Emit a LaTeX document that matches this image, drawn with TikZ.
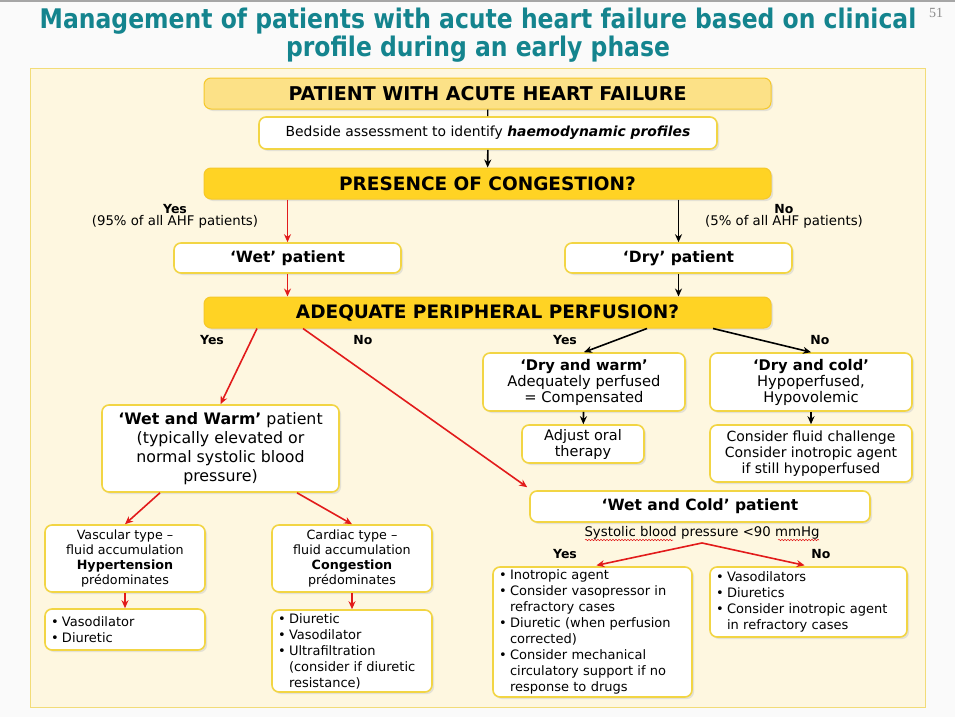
\documentclass[tikz,border=0pt]{standalone}
\usepackage{fontspec}
\setmainfont{DejaVu Sans}
\newfontfamily\titlefont[FakeStretch=0.87]{DejaVu Sans}
\newfontfamily\numfont{Liberation Serif}
\usetikzlibrary{arrows.meta, positioning, shadows, decorations.pathmorphing}
\definecolor{titleteal}{HTML}{14848E}
\definecolor{panelfill}{HTML}{FEF7E0}
\definecolor{paneledge}{HTML}{F2DC78}
\definecolor{hdrgold}{HTML}{FFD324}
\definecolor{hdrlight}{HTML}{FCE187}
\definecolor{hdredge}{HTML}{F5C82A}
\definecolor{boxedge}{HTML}{F2D544}
\definecolor{arrred}{HTML}{E21B1B}
\newcommand{\bul}{\makebox[11pt][l]{\textbullet}}
\newcommand{\ind}{\hspace*{11pt}}

\begin{document}
\begin{tikzpicture}[x=1pt, y=-1pt,
  shad/.style={drop shadow={shadow xshift=2pt, shadow yshift=-2pt, fill=black!20}},
  hdr/.style={shad, rounded corners=7pt, fill=hdrgold, draw=hdredge, line width=1pt,
    minimum width=567pt, minimum height=31pt, inner sep=0pt,
    font=\fontsize{18.5}{20}\selectfont\bfseries},
  wbox/.style={shad, rounded corners=7pt, fill=white, draw=boxedge, line width=1.6pt,
    inner sep=0pt, align=center},
  lbox/.style={wbox, align=left, inner xsep=6pt, font=\fontsize{13}{16}\selectfont},
  redarr/.style={draw=arrred, line width=1.6pt, -{Stealth[length=8pt, width=7pt]}},
  blkarr/.style={draw=black, line width=1.6pt, -{Stealth[length=8pt, width=7pt]}},
  lab/.style={font=\fontsize{12.5}{13}\selectfont\bfseries}
]
  \useasboundingbox (0,0) rectangle (955,717);
  \fill[black!2] (0,0) rectangle (955,717);
  \draw[black!35, line width=1.5pt] (0,1) -- (955,1);

  % Title and slide number
  \node[font=\titlefont\fontsize{27}{25}\selectfont\bfseries, text=titleteal, align=center] (title) at (478,35)
    {Management of patients with acute heart failure based on clinical\\profile during an early phase};
  \node[font=\numfont\fontsize{14}{14}\selectfont, text=black!45] (pagenum) at (936,13) {51};

  % Panel
  \fill[panelfill] (30,68) rectangle (925,707);
  \draw[paneledge, line width=1pt] (30,68) rectangle (925,707);

  % Main questions
  \node[hdr, fill=hdrlight, font=\fontsize{19}{20}\selectfont\bfseries] (patient) at (487.5,93.5) {PATIENT WITH ACUTE HEART FAILURE};
  \node[wbox, minimum width=458pt, minimum height=32pt, font=\fontsize{13.9}{15}\selectfont] (bedside) at (488,133)
    {Bedside assessment to identify \textbf{\itshape haemodynamic profiles}};
  \node[hdr] (congestion) at (487.5,183.5) {PRESENCE OF CONGESTION?};
  \node[wbox, minimum width=227pt, minimum height=30pt, font=\fontsize{15.5}{16}\selectfont\bfseries] (wet) at (287.5,258) {‘Wet’ patient};
  \node[wbox, minimum width=227pt, minimum height=30pt, font=\fontsize{15.5}{16}\selectfont\bfseries] (dry) at (678.5,258) {‘Dry’ patient};
  \node[hdr] (perfusion) at (487.5,312.5) {ADEQUATE PERIPHERAL PERFUSION?};

  % Profiles
  \node[wbox, minimum width=237pt, minimum height=87pt, font=\fontsize{15.8}{19}\selectfont] (wetwarm) at (220.5,448.5)
    {\textbf{‘Wet and Warm’} patient\\(typically elevated or\\normal systolic blood\\pressure)};
  \node[wbox, minimum width=202pt, minimum height=58pt, font=\fontsize{14.7}{16}\selectfont] (drywarm) at (584,382)
    {\textbf{‘Dry and warm’}\\Adequately perfused\\= Compensated};
  \node[wbox, minimum width=202pt, minimum height=58pt, font=\fontsize{14.7}{16}\selectfont] (drycold) at (811,382)
    {\textbf{‘Dry and cold’}\\Hypoperfused,\\Hypovolemic};
  \node[wbox, minimum width=122pt, minimum height=38pt, font=\fontsize{14.5}{16}\selectfont] (adjust) at (583,444)
    {Adjust oral\\therapy};
  \node[wbox, minimum width=202pt, minimum height=57pt, font=\fontsize{14}{16}\selectfont] (fluid) at (811,453.5)
    {Consider fluid challenge\\Consider inotropic agent\\if still hypoperfused};
  \node[wbox, minimum width=340pt, minimum height=31pt, font=\fontsize{15.5}{16}\selectfont\bfseries] (wetcold) at (700,506.5)
    {‘Wet and Cold’ patient};
  \node[font=\fontsize{13.3}{14}\selectfont] (sbp) at (702,533) {Systolic blood pressure <90 mmHg};
  \draw[arrred, line width=0.5pt, decorate, decoration={snake, amplitude=0.7pt, segment length=3pt}] (585,540) -- (673,540);
  \draw[arrred, line width=0.5pt, decorate, decoration={snake, amplitude=0.7pt, segment length=3pt}] (778,540) -- (819,540);

  % Wet and warm subtypes
  \node[wbox, minimum width=160pt, minimum height=67pt, font=\fontsize{12.7}{15}\selectfont] (vascular) at (125,558.5)
    {Vascular type –\\fluid accumulation\\\textbf{Hypertension}\\prédominates};
  \node[wbox, minimum width=160pt, minimum height=67pt, font=\fontsize{12.7}{15}\selectfont] (cardiac) at (352,558.5)
    {Cardiac type –\\fluid accumulation\\\textbf{Congestion}\\prédominates};
  \node[lbox, text width=148pt, minimum height=41pt] (vasolist) at (125,629.5)
    {\bul Vasodilator\\\bul Diuretic};
  \node[lbox, text width=148pt, minimum height=82pt] (cardlist) at (352,651)
    {\bul Diuretic\\\bul Vasodilator\\\bul Ultrafiltration\\\ind (consider if diuretic\\\ind resistance)};

  % Wet and cold treatment
  \node[lbox, text width=187pt, minimum height=130pt] (wcyes) at (592.5,632)
    {\bul Inotropic agent\\\bul Consider vasopressor in\\\ind refractory cases\\\bul Diuretic (when perfusion\\\ind corrected)\\\bul Consider mechanical\\\ind circulatory support if no\\\ind response to drugs};
  \node[lbox, text width=185pt, minimum height=70pt] (wcno) at (808.5,602)
    {\bul Vasodilators\\\bul Diuretics\\\bul Consider inotropic agent\\\ind in refractory cases};

  % Yes / No labels
  \node[lab] (yes1) at (175,209) {Yes};
  \node[font=\fontsize{13.3}{13}\selectfont] (yes1txt) at (175,222) {(95\% of all AHF patients)};
  \node[lab] (no1) at (784,209) {No};
  \node[font=\fontsize{13.3}{13}\selectfont] (no1txt) at (784,222) {(5\% of all AHF patients)};
  \foreach \nm/\txt/\x/\y in {yes2/Yes/212/340, no2/No/363/340, yes3/Yes/565/340, no3/No/820/340, yes4/Yes/565/554, no4/No/821/554}
    \node[lab] (\nm) at (\x,\y) {\txt};

  % Connectors
  \draw[line width=1.4pt] (patient) -- (bedside);
  \draw[blkarr] (bedside) -- (congestion);
  \draw[redarr] (congestion.south -| wet) -- (wet);
  \draw[blkarr] (congestion.south -| dry) -- (dry);
  \draw[redarr] (wet) -- (perfusion.north -| wet);
  \draw[blkarr] (dry) -- (perfusion.north -| dry);
  \draw[redarr] ([xshift=-230.5pt]perfusion.south) -- (wetwarm.north);
  \draw[redarr] ([xshift=-184.5pt]perfusion.south) -- ([xshift=-2pt, yshift=3pt]wetcold.north west);
  \draw[blkarr] ([xshift=159.5pt]perfusion.south) -- (drywarm.north);
  \draw[blkarr] ([xshift=225.5pt]perfusion.south) -- (drycold.north);
  \draw[blkarr] (drywarm) -- (adjust);
  \draw[blkarr] (drycold) -- (fluid);
  \draw[redarr] ([xshift=-60.5pt]wetwarm.south) -- (vascular.north);
  \draw[redarr] ([xshift=76.5pt]wetwarm.south) -- (cardiac.north);
  \draw[redarr] (vascular) -- (vasolist);
  \draw[redarr] (cardiac) -- (cardlist);
  \draw[redarr, shorten >=4pt] (sbp.south) -- (wcyes.north);
  \draw[redarr, shorten >=4pt] (sbp.south) -- (wcno.north);
\end{tikzpicture}
\end{document}
